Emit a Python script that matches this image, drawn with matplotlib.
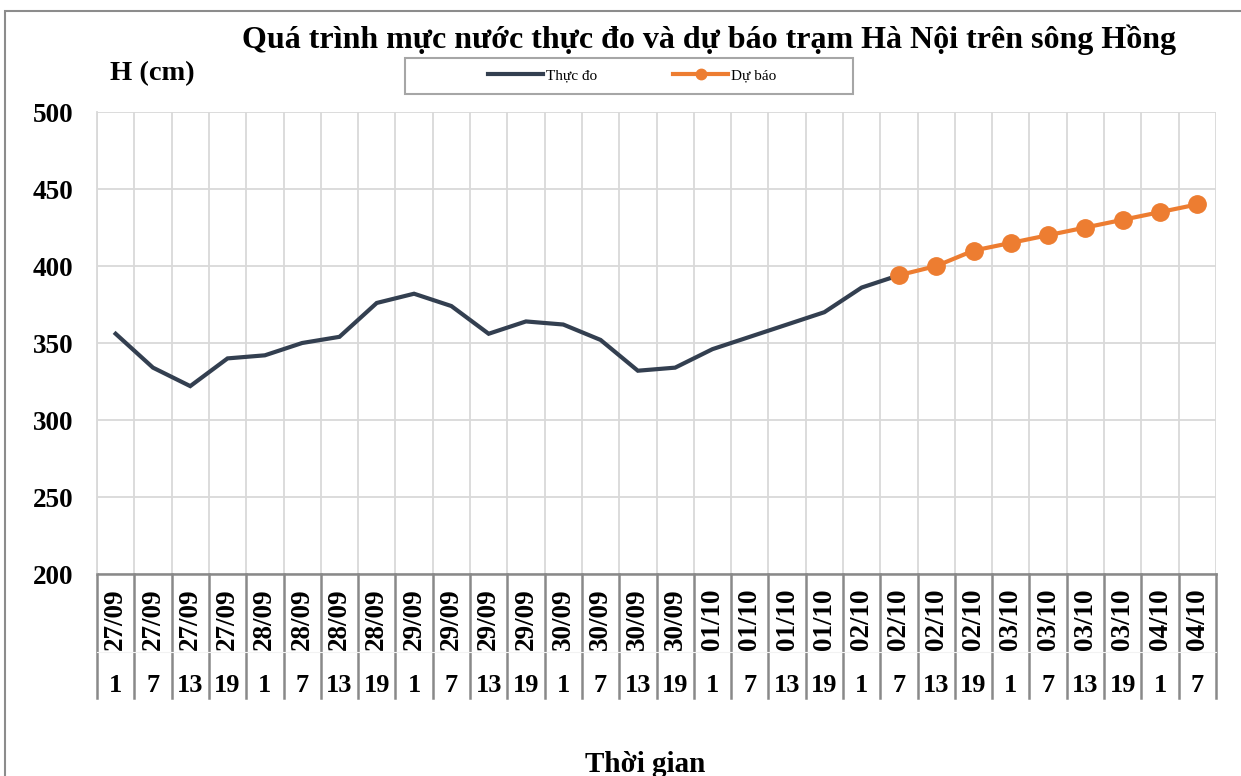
import matplotlib
matplotlib.use("Agg")
import matplotlib.pyplot as plt
from matplotlib.patches import Rectangle
from matplotlib.transforms import blended_transform_factory

plt.rcParams["font.family"] = ["Liberation Serif", "DejaVu Serif"]

# nhãn trục hoành hai tầng: ngày / giờ
dates = ["27/09"] * 4 + ["28/09"] * 4 + ["29/09"] * 4 + ["30/09"] * 4 + \
        ["01/10"] * 4 + ["02/10"] * 4 + ["03/10"] * 4 + ["04/10"] * 2
hours = ["1", "7", "13", "19"] * 7 + ["1", "7"]

# mực nước thực đo (cm)
observed = [356, 334, 322, 340, 342, 350, 354, 376, 382, 374, 356, 364, 362,
            352, 332, 334, 346, 354, 362, 370, 386, 394]
# mực nước dự báo (cm), bắt đầu từ 02/10 7h
forecast = [394, 400, 410, 415, 420, 425, 430, 435, 440]
forecast_start = 21

W, H = 1241, 776
fig = plt.figure(figsize=(W / 100, H / 100), dpi=100)

# khung viền ngoài của biểu đồ
fig.patches.append(Rectangle((5 / W, -0.05), 1.2, 1 - 11 / H + 0.05,
                             transform=fig.transFigure, fill=False,
                             edgecolor="#8c8c8c", lw=1.5))

left, right, top, bottom = 97, 1216, 112, 574
ax = fig.add_axes([left / W, 1 - bottom / H, (right - left) / W, (bottom - top) / H])

n = len(dates)
x_obs = [i + 0.5 for i in range(len(observed))]
x_fc = [forecast_start + i + 0.5 for i in range(len(forecast))]

ax.plot(x_obs, observed, color="#333F50", lw=3, solid_joinstyle="miter",
        label="Thực đo", zorder=3)
ax.plot(x_fc, forecast, color="#ED7D31", lw=3, marker="o", markersize=12.5,
        label="Dự báo", zorder=4)

ax.set_xlim(0, n)
ax.set_ylim(200, 500)
ax.set_yticks(range(200, 501, 50))
ax.set_yticklabels([str(v) for v in range(200, 501, 50)],
                   fontsize=19.5, fontweight="bold")
ax.tick_params(axis="y", length=0, pad=17)
ax.set_xticks(range(n + 1))
ax.set_xticklabels([])
ax.tick_params(axis="x", length=0)
ax.grid(True, color="#d9d9d9", lw=1.3)
ax.set_axisbelow(True)
for s in ["top", "right"]:
    ax.spines[s].set_visible(False)
ax.spines["left"].set_color("#d9d9d9")
ax.spines["left"].set_linewidth(1.3)
ax.spines["bottom"].set_color("#898989")
ax.spines["bottom"].set_linewidth(1.8)

# bảng nhãn bên dưới trục
ph = bottom - top
trans = blended_transform_factory(ax.transData, ax.transAxes)
depth = -(698 - bottom) / ph
for i in range(n + 1):
    ax.plot([i, i], [0, depth], transform=trans, color="#898989", lw=1.8,
            clip_on=False)
ax.plot([0, n], [-(652 - bottom) / ph] * 2, transform=trans, color="#f2f2f2",
        lw=0.8, clip_on=False)
for i in range(n):
    ax.text(i + 0.5, -(619 - bottom) / ph, dates[i], transform=trans,
            rotation=90, ha="center", va="center", fontsize=19.5,
            fontweight="bold")
    ax.text(i + 0.5, -(686 - bottom) / ph, hours[i], transform=trans,
            ha="center", va="center", fontsize=19, fontweight="bold")

fig.text(709 / W, 1 - 40 / H, "Quá trình mực nước thực đo và dự báo trạm Hà Nội trên sông Hồng",
         ha="center", va="center", fontsize=23, fontweight="bold")
fig.text(110 / W, 1 - 74 / H, "H (cm)", ha="left", va="center",
         fontsize=20.5, fontweight="bold")
fig.text(645 / W, 1 - 764 / H, "Thời gian", ha="center", va="center",
         fontsize=21, fontweight="bold")

# chú thích
fig.patches.append(Rectangle((405 / W, 1 - 94 / H), 448 / W, 36 / H,
                             transform=fig.transFigure, fill=False,
                             edgecolor="#a6a6a6", lw=1.5))
fig.legend(loc="center", bbox_to_anchor=(632 / W, 1 - 76 / H), ncol=2,
           frameon=False, fontsize=11, handlelength=3.6, handletextpad=0.2,
           columnspacing=5.0, borderpad=0, markerscale=0.6)

fig.savefig("out.png", dpi=100)
